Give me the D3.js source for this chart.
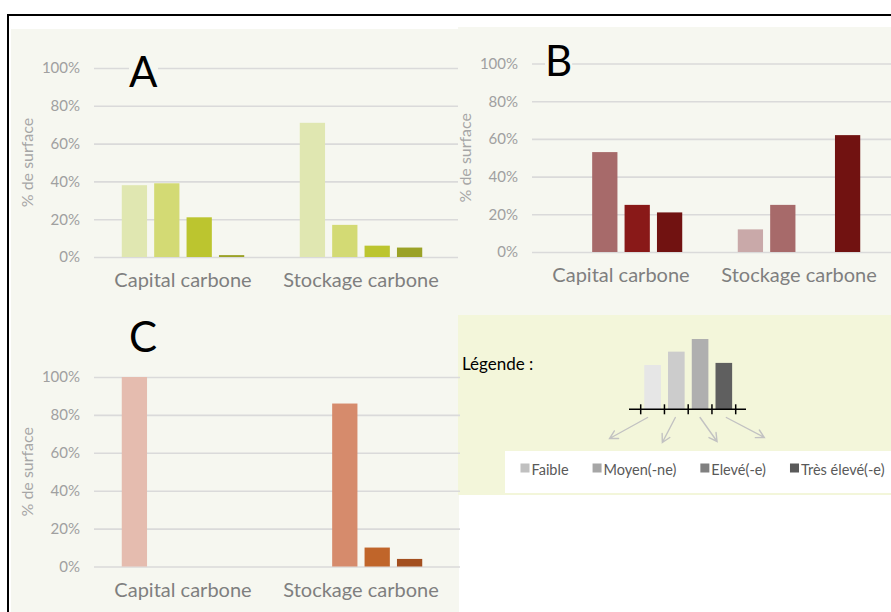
<!DOCTYPE html>
<html>
<head>
<meta charset="utf-8">
<script src="https://cdn.jsdelivr.net/npm/d3@7"></script>
<style>
  html, body { margin: 0; padding: 0; background: #ffffff; }
  svg { display: block; }
</style>
</head>
<body>
<svg id="fig" width="891" height="612"></svg>
<script>
// ---- data ----
const categories = ["Capital carbone", "Stockage carbone"];
const levels = ["Faible", "Moyen(-ne)", "Elevé(-e)", "Très élevé(-e)"];
const yTicks = [0, 20, 40, 60, 80, 100];

// A
const capitalA = [38, 39, 21, 1];
const stockageA = [71, 17, 6, 5];
const colorsA = ["#e0e7b1", "#d3da74", "#bcc52f", "#9ba227"];

// B
const capitalB = [0, 53, 25, 21];
const stockageB = [12, 25, 0, 62];
const colorsB = ["#c9a9a9", "#a76a6a", "#891918", "#711211"];

// C
const capitalC = [100, 0, 0, 0];
const stockageC = [0, 86, 10, 4];
const colorsC = ["#e5bcaf", "#d68b6c", "#c0652a", "#a34f1f"];

// legend illustration (relative bar heights) and key swatches
const demoHeights = [63, 82, 100, 66];
const demoColors = ["#e6e6e6", "#cccccc", "#afafaf", "#5f5f5f"];
const keyColors = ["#c0c0c0", "#a6a6a6", "#808080", "#5a5a5a"];

// ---- drawing ----
const FONT = "Lato, 'Open Sans', sans-serif";
const svg = d3.select("#fig");

// panel backgrounds
svg.append("rect").attr("x", 11).attr("y", 29).attr("width", 448).attr("height", 583).attr("fill", "#f6f7f0");
svg.append("rect").attr("x", 458).attr("y", 27).attr("width", 433).attr("height", 288).attr("fill", "#f6f7f0");
svg.append("rect").attr("x", 458).attr("y", 315).attr("width", 433).attr("height", 180).attr("fill", "#f3f6da");

// outer frame (top and left)
svg.append("path").attr("d", "M8,612V15H891")
  .attr("fill", "none").attr("stroke", "#000").attr("stroke-width", 2);

function drawPanel(opt) {
  const y = d3.scaleLinear().domain([0, 100]).range([opt.y0, opt.y100]);
  const x = d3.scaleBand().domain(categories).range([opt.x0, opt.x0 + 356]);
  const xs = d3.scaleBand().domain(levels).range([0, x.bandwidth()])
    .paddingInner(0.22).paddingOuter(0.857);

  const g = svg.append("g");

  // value axis with gridlines
  const ya = g.append("g").attr("transform", `translate(${opt.x0},0)`)
    .call(d3.axisLeft(y).tickValues(yTicks).tickFormat(d => d + "%")
      .tickSize(-(opt.gridEnd - opt.x0)).tickPadding(14));
  ya.select(".domain").remove();
  ya.selectAll(".tick line").attr("stroke", "#dadada").attr("stroke-width", 1.6);
  ya.selectAll(".tick text").attr("fill", "#a0a0a0")
    .style("font-family", FONT).style("font-size", "15px");

  // category axis
  const xa = g.append("g").attr("transform", `translate(0,${opt.y0})`)
    .call(d3.axisBottom(x).tickSize(0).tickPadding(16));
  xa.select(".domain").remove();
  xa.selectAll(".tick text").attr("fill", "#7f7f7f")
    .style("font-family", FONT).style("font-size", "20px");

  // bars
  const rows = [];
  categories.forEach((c, ci) => {
    opt.series[ci].forEach((v, li) => {
      if (v > 0) rows.push({ cat: c, level: levels[li], li, v });
    });
  });
  g.append("g").selectAll("rect").data(rows).join("rect")
    .attr("x", d => x(d.cat) + xs(d.level))
    .attr("y", d => y(d.v))
    .attr("width", xs.bandwidth())
    .attr("height", d => y(0) - y(d.v))
    .attr("fill", d => opt.colors[d.li]);

  // axis title
  g.append("text")
    .attr("transform", `translate(${opt.x0 - 67},${(opt.y0 + opt.y100) / 2}) rotate(-90)`)
    .attr("text-anchor", "middle").attr("dy", "0.35em")
    .attr("fill", "#a6a6a6")
    .style("font-family", FONT).style("font-size", "16px")
    .text("% de surface");

  // panel letter on a small background patch
  const lt = g.append("text")
    .attr("x", opt.lx).attr("y", opt.ly)
    .attr("fill", "#000")
    .style("font-family", "Lato, 'Liberation Sans', sans-serif").style("font-size", "42px")
    .text(opt.letter);
  const bb = lt.node().getBBox();
  g.append("rect")
    .attr("x", bb.x).attr("y", opt.ly - 31).attr("width", bb.width).attr("height", 31)
    .attr("fill", "#f6f7f0");
  lt.raise();
}

drawPanel({ letter: "A", lx: 129, ly: 87, x0: 94, y0: 257, y100: 68, gridEnd: 458,
  series: [capitalA, stockageA], colors: colorsA });
drawPanel({ letter: "B", lx: 545, ly: 76, x0: 532, y0: 252, y100: 63.5, gridEnd: 891,
  series: [capitalB, stockageB], colors: colorsB });
drawPanel({ letter: "C", lx: 129, ly: 352, x0: 94, y0: 566.5, y100: 377, gridEnd: 460,
  series: [capitalC, stockageC], colors: colorsC });

// ---- legend panel ----
svg.append("text").attr("x", 462).attr("y", 370)
  .attr("fill", "#000")
  .style("font-family", FONT).style("font-size", "17px")
  .text("Légende :");

// illustration: small bar chart over a ticked axis
const dx = d3.scaleBand().domain(levels).range([640.7, 735.7]).paddingInner(0.3).paddingOuter(0.15);
const dy = d3.scaleLinear().domain([0, 100]).range([409.3, 339]);
const demo = svg.append("g");
demo.selectAll("rect").data(levels).join("rect")
  .attr("x", d => dx(d)).attr("width", dx.bandwidth())
  .attr("y", (d, i) => dy(demoHeights[i]))
  .attr("height", (d, i) => dy(0) - dy(demoHeights[i]))
  .attr("fill", (d, i) => demoColors[i]);
demo.append("line").attr("x1", 629).attr("x2", 746).attr("y1", dy(0)).attr("y2", dy(0))
  .attr("stroke", "#000").attr("stroke-width", 1.6);
demo.selectAll("line.tk").data(d3.range(levels.length + 1)).join("line").attr("class", "tk")
  .attr("x1", i => dx.range()[0] + i * dx.step()).attr("x2", i => dx.range()[0] + i * dx.step())
  .attr("y1", dy(0) - 5).attr("y2", dy(0) + 5)
  .attr("stroke", "#000").attr("stroke-width", 1.5);

// arrows fanning out from the bars towards the key
const arrowShift = [-5, -1, 0, 2.5];
const arrowVec = [[-38, 21], [-13, 25], [17, 24], [38, 20]];
levels.forEach((lv, i) => {
  const x1 = dx(lv) + dx.bandwidth() / 2 + arrowShift[i], y1 = 417.5;
  const x2 = x1 + arrowVec[i][0], y2 = y1 + arrowVec[i][1];
  const ang = Math.atan2(y2 - y1, x2 - x1), L = 9, spread = 0.5;
  const h1 = [x2 - L * Math.cos(ang - spread), y2 - L * Math.sin(ang - spread)];
  const h2 = [x2 - L * Math.cos(ang + spread), y2 - L * Math.sin(ang + spread)];
  demo.append("path")
    .attr("d", `M${x1},${y1}L${x2},${y2}M${h1[0]},${h1[1]}L${x2},${y2}L${h2[0]},${h2[1]}`)
    .attr("fill", "none").attr("stroke", "#c2c2c2").attr("stroke-width", 1.4)
    .attr("stroke-linecap", "round");
});

// key box
svg.append("rect").attr("x", 505).attr("y", 451).attr("width", 386).attr("height", 42).attr("fill", "#ffffff");
const key = svg.append("g");
let kx = 520.5;
levels.forEach((lv, i) => {
  key.append("rect").attr("x", kx).attr("y", 463.5).attr("width", 9).attr("height", 9).attr("fill", keyColors[i]);
  const t = key.append("text").attr("x", kx + 11).attr("y", 474.5)
    .attr("fill", "#595959")
    .style("font-family", FONT).style("font-size", "14.5px")
    .text(lv);
  kx += 11 + t.node().getComputedTextLength() + 24;
});
</script>
</body>
</html>
